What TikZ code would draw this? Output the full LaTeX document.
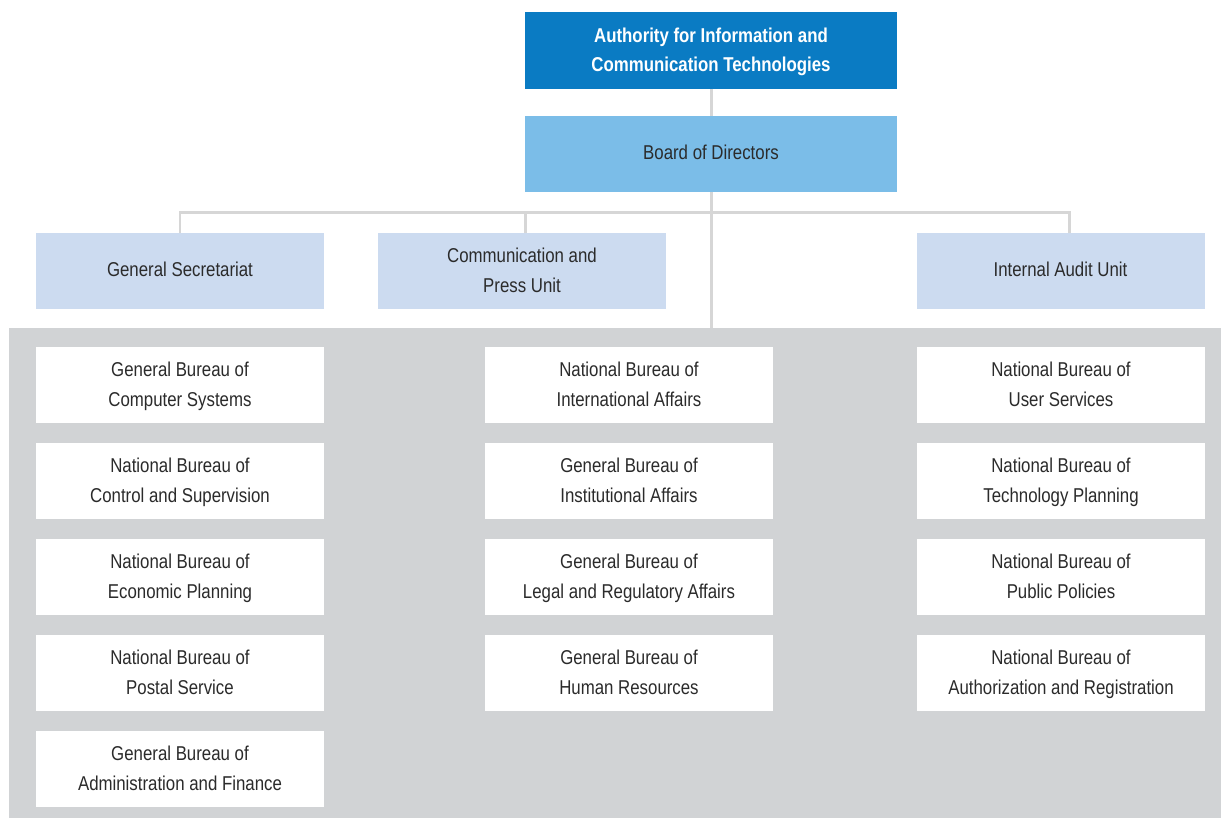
\documentclass[tikz,border=0pt]{standalone}
\usepackage{fontspec}
\setmainfont{Liberation Sans}[FakeStretch=0.84]
\usetikzlibrary{positioning}
\definecolor{authblue}{HTML}{0A7BC3}
\definecolor{boardblue}{HTML}{7BBDE8}
\definecolor{unitblue}{HTML}{CCDBF0}
\definecolor{panelgray}{HTML}{D1D3D5}
\definecolor{linkgray}{HTML}{D6D6D6}
\definecolor{textgray}{HTML}{2B2B2B}

\begin{document}
\begin{tikzpicture}[
    node distance=0.4cm,
    every node/.style={font=\fontsize{11.4}{17}\selectfont, text=textgray},
    box/.style={
        fill=#1,
        minimum width=5.76cm, minimum height=1.52cm,
        inner sep=0pt, outer sep=0pt,
        align=center,
        execute at begin node=\strut,
        execute at end node=\strut,
        text depth=0.8pt
    },
    oneline/.style={text depth=5.1pt},
    head/.style={box=#1, minimum width=7.44cm, minimum height=1.53cm},
    link/.style={draw=linkgray, line width=1.7pt}
]
\useasboundingbox (0,0) rectangle (24.42,-16.36);

% Gray panel behind the bureaus
\fill[panelgray] (0.18,-6.56) rectangle (24.42,-16.36);

% Top of the chart
\node[head=authblue, text=white, font=\fontsize{11.4}{17}\selectfont\bfseries] (auth) at (14.22,-1.01)
    {Authority for Information and\\Communication Technologies};
\node[head=boardblue, oneline] (board) at (14.22,-3.08) {Board of Directors};

% Units
\node[box=unitblue, oneline] (secretariat) at (3.6,-5.42) {General Secretariat};
\node[box=unitblue] (press) at (10.44,-5.42) {Communication and\\Press Unit};
\node[box=unitblue, oneline] (audit) at (21.21,-5.42) {Internal Audit Unit};

\coordinate (bar) at (14.22,-4.24);
\coordinate (hub) at (14.22,-6.56);

% Left column
\node[box=white] (computer) at (3.6,-7.7) {General Bureau of\\Computer Systems};
\node[box=white, below=of computer] (control) {National Bureau of\\Control and Supervision};
\node[box=white, below=of control] (economic) {National Bureau of\\Economic Planning};
\node[box=white, below=of economic] (postal) {National Bureau of\\Postal Service};
\node[box=white, below=of postal] (finance) {General Bureau of\\Administration and Finance};

% Middle column
\node[box=white] (international) at (12.58,-7.7) {National Bureau of\\International Affairs};
\node[box=white, below=of international] (institutional) {General Bureau of\\Institutional Affairs};
\node[box=white, below=of institutional] (legal) {General Bureau of\\Legal and Regulatory Affairs};
\node[box=white, below=of legal] (human) {General Bureau of\\Human Resources};

% Right column
\node[box=white] (users) at (21.22,-7.7) {National Bureau of\\User Services};
\node[box=white, below=of users] (technology) {National Bureau of\\Technology Planning};
\node[box=white, below=of technology] (policies) {National Bureau of\\Public Policies};
\node[box=white, below=of policies] (registration) {National Bureau of\\Authorization and Registration};

% Links
\draw[link] (auth) -- (board);
\draw[link] (board) -- (hub);
\draw[link] (secretariat.north) |- (bar) -| ([xshift=0.17cm]audit.north);
\draw[link] ([xshift=0.06cm]press.north) -- ([xshift=0.06cm]press.north |- bar);

\end{tikzpicture}
\end{document}
